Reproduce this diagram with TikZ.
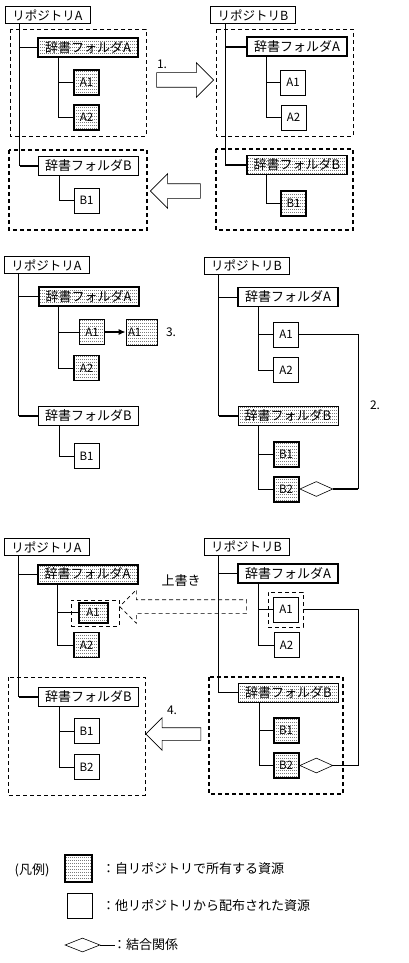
\documentclass[tikz,border=0pt]{standalone}
\usepackage{fontspec}
\newfontfamily\jpfont{Noto Sans CJK JP}
\usepackage{tikz}
\usetikzlibrary{shapes.geometric, shapes.arrows, arrows.meta, positioning, calc, patterns}

\pgfdeclarepatternformonly{dotgrid}{\pgfqpoint{0pt}{0pt}}{\pgfqpoint{2pt}{3pt}}{\pgfqpoint{2pt}{3pt}}{%
  \pgfpathrectangle{\pgfqpoint{0pt}{0pt}}{\pgfqpoint{1pt}{1pt}}%
  \pgfusepath{fill}}

\begin{document}
\begin{tikzpicture}[
  x=1pt, y=-1pt,
  repo/.style={draw, line width=0.6pt, minimum width=85pt, minimum height=17pt, inner sep=1pt, font=\jpfont\fontsize{12.5}{13}\selectfont},
  dir/.style={draw, line width=0.6pt, minimum width=100pt, minimum height=19pt, inner sep=1pt, font=\jpfont\fontsize{13}{14}\selectfont},
  res/.style={draw, line width=0.6pt, minimum width=25pt, minimum height=25pt, inner sep=0pt, font=\jpfont\fontsize{11.5}{12}\selectfont},
  own/.style={pattern=dotgrid, pattern color=black!80},
  heavy/.style={line width=2pt},
  mid/.style={line width=1.2pt},
  grp/.style={draw, line width=0.6pt, dash pattern=on 4pt off 3pt},
  grpheavy/.style={grp, line width=1.4pt},
  tree/.style={line width=0.6pt},
  bond/.style={line width=1.6pt},
  blk/.style={single arrow, draw, fill=white, line width=0.6pt, inner xsep=0pt, inner ysep=7pt, single arrow head extend=10pt},
  link/.style={diamond, draw, fill=white, line width=0.6pt, minimum width=33pt, minimum height=15pt, inner sep=0pt, aspect=2.2},
  note/.style={font=\jpfont\fontsize{12}{13}\selectfont, inner sep=0pt}
]
  \useasboundingbox (0,0) rectangle (408,963);

  % ---- Step 1: repository A
  \draw[grp] (10,29) rectangle (146,136);
  \draw[grpheavy] (9,150) rectangle (147,230);
  \node[repo] (repoL1) at (47.5,15) {リポジトリA};
  \node[dir, heavy, own] (dirAL1) at (88,47.5) {辞書フォルダA};
  \node[res, heavy, own] (a1L1) at (86.5,82.5) {A1};
  \node[res, heavy, own] (a2L1) at (86.5,117.5) {A2};
  \node[dir] (dirBL1) at (88.5,166) {辞書フォルダB};
  \node[res] (b1L1) at (86.5,200.5) {B1};
  \coordinate (tL1) at ($(repoL1.south west)+(15,0)$);
  \draw[tree] (tL1) -- (tL1 |- dirBL1.west);
  \draw[bond] (tL1 |- dirAL1.west) -- (dirAL1.west);
  \draw[bond] (tL1 |- dirBL1.west) -- (dirBL1.west);
  \draw[tree] ($(dirAL1.south west)+(21,0)$) |- (a1L1.west);
  \draw[tree] ($(dirAL1.south west)+(21,0)$) |- (a2L1.west);
  \draw[tree] ($(dirBL1.south west)+(21,0)$) |- (b1L1.west);

  % ---- Step 1: repository B
  \draw[grp] (216,29) rectangle (353,136);
  \draw[grpheavy] (216,149) rectangle (353,230);
  \node[repo] (repoR1) at (253,15) {リポジトリB};
  \node[dir, heavy] (dirAR1) at (297,47) {辞書フォルダA};
  \node[res] (a1R1) at (293,82.5) {A1};
  \node[res] (a2R1) at (293.5,117.5) {A2};
  \node[dir, mid, own] (dirBR1) at (297,165) {辞書フォルダB};
  \node[res, mid, own] (b1R1) at (293.5,203.5) {B1};
  \coordinate (tR1) at ($(repoR1.south west)+(15,0)$);
  \draw[tree] (tR1) -- (tR1 |- dirBR1.west);
  \draw[bond] (tR1 |- dirAR1.west) -- (dirAR1.west);
  \draw[bond] (tR1 |- dirBR1.west) -- (dirBR1.west);
  \draw[tree] ($(dirAR1.south west)+(20,0)$) |- (a1R1.west);
  \draw[tree] ($(dirAR1.south west)+(20,0)$) |- (a2R1.west);
  \draw[tree] ($(dirBR1.south west)+(20,0)$) |- (b1R1.west);

  % distribution arrows
  \node[blk, minimum height=57pt] (arrR1) at (181.5,80) {};
  \node[note] (lbl1) at (162,64) {1.};
  \node[blk, minimum height=50pt, shape border rotate=180] (arrL1) at (179,191) {};

  % ---- Step 2: repository A
  \node[repo] (repoL2) at (46.5,265) {リポジトリA};
  \node[dir, heavy, own] (dirAL2) at (88.5,296.5) {辞書フォルダA};
  \node[res, mid, own] (a1L2) at (92,332) {A1};
  \node[res, own, minimum width=31pt, minimum height=26pt, text width=27pt, align=left] (a1cL2) at (141.5,332) {A1};
  \node[res, mid, own] (a2L2) at (86.5,368) {A2};
  \node[dir] (dirBL2) at (88.5,416) {辞書フォルダB};
  \node[res] (b1L2) at (86.5,456) {B1};
  \coordinate (tL2) at ($(repoL2.south west)+(15,0)$);
  \draw[tree] (tL2) |- (dirAL2.west);
  \draw[tree] (tL2) -- (tL2 |- dirBL2.west);
  \draw[bond] (tL2 |- dirBL2.west) -- (dirBL2.west);
  \draw[tree] ($(dirAL2.south west)+(21,0)$) |- (a1L2.west);
  \draw[tree] ($(dirAL2.south west)+(21,0)$) |- (a2L2.west);
  \draw[tree] ($(dirBL2.south west)+(21,0)$) |- (b1L2.west);
  \draw[bond, -{Latex[length=7pt, width=6pt]}] (a1L2.east) -- (a1cL2.west);
  \node[note] (lbl3) at (171,332) {3.};

  % ---- Step 2: repository B
  \node[repo] (repoR2) at (246.5,265.5) {リポジトリB};
  \node[dir, mid] (dirAR2) at (288,297) {辞書フォルダA};
  \node[res] (a1R2) at (286,334.5) {A1};
  \node[res] (a2R2) at (286,370) {A2};
  \node[dir, own] (dirBR2) at (288,416) {辞書フォルダB};
  \node[res, heavy, own] (b1R2) at (286,454.5) {B1};
  \node[res, heavy, own] (b2R2) at (286,489) {B2};
  \node[link, anchor=west] (lnkR2) at (b2R2.east) {};
  \coordinate (jR2) at (358,489);
  \coordinate (tR2) at ($(repoR2.south west)+(15,0)$);
  \draw[tree] (tR2) |- (dirAR2.west);
  \draw[tree] (tR2) -- (tR2 |- dirBR2.west);
  \draw[bond] (tR2 |- dirBR2.west) -- (dirBR2.west);
  \draw[tree] ($(dirAR2.south west)+(21,0)$) |- (a1R2.west);
  \draw[tree] ($(dirAR2.south west)+(21,0)$) |- (a2R2.west);
  \draw[tree] ($(dirBR2.south west)+(21,0)$) |- (b1R2.west);
  \draw[tree] ($(dirBR2.south west)+(21,0)$) |- (b2R2.west);
  \draw[tree] (a1R2.east) -| (jR2);
  \draw[bond] (jR2) -- (lnkR2.east);
  \node[note] (lbl2) at (375,405) {2.};

  % ---- Step 3: repository A
  \draw[grp] (8,677) rectangle (145,795);
  \node[repo] (repoL3) at (46.5,547) {リポジトリA};
  \node[dir, heavy, own] (dirAL3) at (87.5,574) {辞書フォルダA};
  \node[grp, minimum width=48pt, minimum height=26pt] (selL3) at (95,613) {};
  \node[res, heavy, own, minimum width=29pt, minimum height=20pt] (a1L3) at (93,612.5) {A1};
  \node[res, mid, own] (a2L3) at (86.5,645) {A2};
  \node[dir] (dirBL3) at (88.5,697) {辞書フォルダB};
  \node[res] (b1L3) at (86.5,731) {B1};
  \node[res] (b2L3) at (86.5,767) {B2};
  \coordinate (tL3) at ($(repoL3.south west)+(15,0)$);
  \draw[tree] (tL3) |- (dirAL3.west);
  \draw[tree] (tL3) -- (tL3 |- dirBL3.west);
  \draw[bond] (tL3 |- dirBL3.west) -- (dirBL3.west);
  \draw[tree] ($(dirAL3.south west)+(21,0)$) |- (a1L3.west);
  \draw[tree] ($(dirAL3.south west)+(21,0)$) |- (a2L3.west);
  \draw[tree] ($(dirBL3.south west)+(21,0)$) |- (b1L3.west);
  \draw[tree] ($(dirBL3.south west)+(21,0)$) |- (b2L3.west);

  % overwrite and distribution arrows
  \node[blk, grp, fill=none, inner ysep=6.5pt, minimum height=127pt, shape border rotate=180] (arrOver) at (186.5,606.5) {};
  \node[note, font=\jpfont\fontsize{13}{14}\selectfont] (lblOver) at (181,581) {上書き};
  \node[blk, inner ysep=6pt, minimum height=55pt, shape border rotate=180] (arrL3) at (176.5,734) {};
  \node[note] (lbl4) at (172,710) {4.};

  % ---- Step 3: repository B
  \draw[grpheavy] (209,677) rectangle (343,794);
  \node[repo] (repoR3) at (246.5,546.5) {リポジトリB};
  \node[dir, mid] (dirAR3) at (288,573.5) {辞書フォルダA};
  \node[grp, minimum width=35pt, minimum height=35pt] (selR3) at (285.5,609.5) {};
  \node[res] (a1R3) at (286,609.5) {A1};
  \node[res] (a2R3) at (286.5,645) {A2};
  \node[dir, own] (dirBR3) at (288.5,692.5) {辞書フォルダB};
  \node[res, heavy, own] (b1R3) at (286,730) {B1};
  \node[res, heavy, own] (b2R3) at (286,765.5) {B2};
  \node[link, anchor=west] (lnkR3) at (b2R3.east) {};
  \coordinate (jR3) at (358,765.5);
  \coordinate (tR3) at ($(repoR3.south west)+(15,0)$);
  \draw[tree] (tR3) |- (dirAR3.west);
  \draw[tree] (tR3) -- (tR3 |- dirBR3.west);
  \draw[bond] (tR3 |- dirBR3.west) -- (dirBR3.west);
  \draw[tree] ($(dirAR3.south west)+(21,0)$) |- (a1R3.west);
  \draw[tree] ($(dirAR3.south west)+(21,0)$) |- (a2R3.west);
  \draw[tree] ($(dirBR3.south west)+(21,0)$) |- (b1R3.west);
  \draw[tree] ($(dirBR3.south west)+(21,0)$) |- (b2R3.west);
  \draw[tree] (selR3.east) -| (jR3);
  \draw[bond] (jR3) -- (lnkR3.east);

  % ---- Legend
  \node[note, font=\jpfont\fontsize{13}{14}\selectfont] (legend) at (32,870) {(凡例)};
  \node[res, mid, own, minimum width=27pt, minimum height=27pt] (keyOwn) at (78.5,868.5) {};
  \node[note, font=\jpfont\fontsize{13}{14}\selectfont, anchor=west] (txtOwn) at (102,868.5) {：自リポジトリで所有する資源};
  \node[res] (keyDist) at (79.5,905.5) {};
  \node[note, font=\jpfont\fontsize{13}{14}\selectfont, anchor=west] (txtDist) at (102,905.5) {：他リポジトリから配布された資源};
  \node[link, minimum width=35pt, minimum height=14pt] (keyLink) at (82.5,945) {};
  \coordinate (keyEnd) at (115,945);
  \draw[tree] (keyLink.east) -- (keyEnd);
  \node[note, font=\jpfont\fontsize{13}{14}\selectfont, anchor=west] (txtLink) at (113,945) {：結合関係};
\end{tikzpicture}
\end{document}
